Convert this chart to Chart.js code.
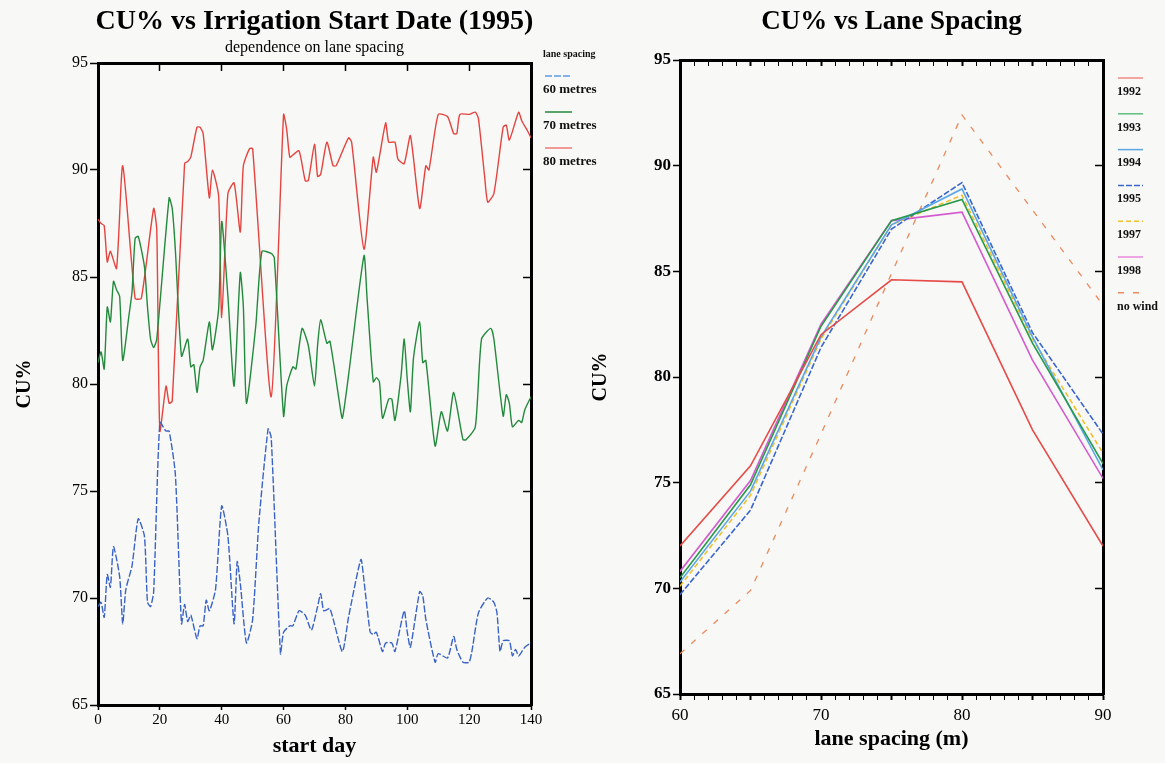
<!DOCTYPE html>
<html>
<head>
<meta charset="utf-8">
<title>CU% vs start date and lane spacing</title>
<script src="https://cdn.jsdelivr.net/npm/chart.js@4.4.1/dist/chart.umd.min.js"></script>
<style>
  html, body { margin: 0; padding: 0; background: #f8f8f6; overflow: hidden; }
  body { width: 1165px; height: 763px; position: relative; }
  canvas { position: absolute; top: 0; }
  #startChart { left: 0; }
  #spacingChart { left: 588px; }
</style>
</head>
<body>
<canvas id="startChart" width="629" height="763"></canvas>
<canvas id="spacingChart" width="607" height="763"></canvas>
<script>
// ---- CU% vs start day (1995), one series per lane spacing ----
const days60 = [0,1,2,3,4,5,7,8,9,11,13,15,16,17,18,20,22,23,25,27,28,29,30,32,33,34,35,36,38,40,42,44,45,46,48,50,52,55,56,59,60,62,63,65,67,69,71,72,73,75,79,81,85,86,88,89,90,92,93,95,96,99,100,101,104,105,106,109,110,113,115,116,118,120,121,123,126,128,129,130,131,133,134,135,136,138,140];
const cu60 = [69.6,69.8,69.1,71.1,70.5,72.4,71.0,68.8,70.4,71.5,73.7,72.9,69.8,69.6,70.3,78.2,77.8,77.8,75.8,68.8,69.7,68.9,69.2,68.1,68.7,68.7,69.9,69.4,70.4,74.3,72.9,68.8,71.7,70.7,67.9,69.0,73.5,77.9,77.5,67.4,68.4,68.7,68.7,69.4,69.2,68.5,69.6,70.2,69.4,69.5,67.5,69.1,71.8,70.8,68.4,68.3,68.4,67.5,67.9,67.9,67.5,69.4,68.4,67.7,70.3,70.1,69.0,67.0,67.4,67.2,68.2,67.6,67.0,67.0,67.6,69.3,70.0,69.8,69.3,67.5,68.0,68.0,67.3,67.6,67.3,67.7,67.9];

const days70 = [0,1,2,3,4,5,6,7,8,10,11,12,13,15,16,17,18,19,23,24,25,27,29,30,31,32,33,34,36,37,39,40,42,44,46,47,48,51,53,56,57,60,61,63,64,66,68,70,71,72,74,75,78,79,81,86,87,89,90,91,92,94,95,96,98,99,100,101,102,104,105,106,109,111,113,115,118,119,122,124,127,128,131,132,133,134,136,137,138,140];
const cu70 = [81.0,81.5,80.7,83.6,82.9,84.8,84.4,84.1,81.1,83.2,84.3,86.8,86.9,85.5,83.6,82.1,81.7,82.1,88.7,88.2,86.3,81.3,82.1,80.8,80.9,79.6,80.8,81.1,82.9,81.6,83.5,87.6,84.1,79.9,85.2,83.6,79.1,82.7,86.2,86.1,85.9,78.5,79.9,80.8,80.7,82.6,81.8,79.9,81.8,83.0,81.9,82.0,79.2,78.4,80.4,86.0,84.0,80.1,80.3,80.1,78.4,79.3,79.3,78.3,80.4,82.1,80.2,78.7,81.2,82.9,81.0,81.1,77.1,78.7,77.8,79.6,77.4,77.4,78.0,82.1,82.6,82.1,78.5,79.5,79.1,78.0,78.3,78.2,78.8,79.4];

const days80 = [0,1,2,3,4,6,8,12,14,18,19,20,22,23,24,28,29,30,32,33,34,36,37,39,40,42,44,46,47,49,50,56,60,61,62,63,65,67,68,70,71,72,74,76,77,81,82,86,89,90,93,94,96,97,99,101,104,106,107,110,113,115,116,117,120,122,123,125,126,128,131,132,133,136,137,139,140];
const cu80 = [87.7,87.5,87.4,85.7,86.2,85.4,90.2,84.0,84.0,88.2,87.2,77.8,79.9,79.1,79.2,90.3,90.4,90.6,92.0,92.0,91.7,88.7,90.0,88.8,83.1,88.9,89.4,87.1,90.2,91.0,91.0,79.4,92.6,91.9,90.6,90.7,90.9,89.5,89.5,91.2,89.7,89.8,91.3,90.2,90.2,91.5,91.3,86.3,90.6,89.9,92.2,91.3,91.3,90.5,90.3,91.6,88.2,90.2,90.0,92.6,92.5,91.7,91.7,92.6,92.6,92.7,92.4,89.7,88.5,88.9,92.0,92.1,91.4,92.7,92.3,91.8,91.5];

const startTicks = [0, 20, 40, 60, 80, 100, 120, 140];

// ---- CU% vs lane spacing, one series per season ----
const laneSpacing = [60, 65, 70, 75, 80, 85, 90];
const cu1992 = [72.0, 75.8, 82.0, 84.6, 84.5, 77.5, 72.0];
const cu1993 = [70.5, 74.9, 82.4, 87.4, 88.4, 81.6, 75.9];
const cu1994 = [70.3, 74.6, 81.9, 87.2, 88.9, 81.9, 75.6];
const cu1995 = [69.7, 73.7, 81.4, 87.0, 89.2, 82.1, 77.3];
const cu1997 = [70.1, 74.4, 81.8, 87.2, 88.6, 81.8, 76.4];
const cu1998 = [70.8, 75.1, 82.5, 87.4, 87.8, 80.8, 75.2];
const cuNoWind = [66.9, 69.9, 77.3, 84.9, 92.4, 87.9, 83.4];

const cuTicks = [65, 70, 75, 80, 85, 90, 95];

const SERIF = '"Liberation Serif", "Times New Roman", serif';

function pairs(xs, ys) {
  return xs.map((x, i) => ({ x: x, y: ys[i] }));
}

// short line sample above each label, as on the plotter output
const sampleLegend = {
  id: 'sampleLegend',
  afterDraw(chart, args, opts) {
    const ctx = chart.ctx;
    ctx.save();
    ctx.textAlign = 'left';
    ctx.textBaseline = 'middle';
    ctx.fillStyle = '#111';
    if (opts.heading) {
      ctx.font = 'bold ' + opts.headingSize + 'px ' + SERIF;
      ctx.fillText(opts.heading, opts.x, opts.headingY);
    }
    ctx.font = 'bold ' + opts.size + 'px ' + SERIF;
    chart.data.datasets.forEach((ds, i) => {
      const y = opts.top + i * opts.gap;
      ctx.strokeStyle = ds.legendColor || ds.borderColor;
      ctx.lineWidth = 1.5;
      ctx.setLineDash(ds.borderDash || []);
      ctx.beginPath();
      ctx.moveTo(opts.x0, y);
      ctx.lineTo(opts.x1, y);
      ctx.stroke();
      ctx.setLineDash([]);
      ctx.fillText(ds.label, opts.x, y + opts.textOffset);
    });
    ctx.restore();
  }
};

// frame side: thick border, no grid on the plot, ticks in or out
function side(position, extra) {
  return Object.assign({
    type: 'linear',
    position: position,
    border: { display: true, color: '#000', width: 3 },
    grid: { drawOnChartArea: false, drawTicks: true, tickLength: 8, tickColor: '#000', tickWidth: 1.5 },
    ticks: { display: false }
  }, extra);
}

// left chart
new Chart(document.getElementById('startChart').getContext('2d'), {
  type: 'line',
  data: {
    datasets: [
      { label: '60 metres', data: pairs(days60, cu60), borderColor: '#3a63c6', borderDash: [7, 2], legendColor: '#5b9de2' },
      { label: '70 metres', data: pairs(days70, cu70), borderColor: '#23893c' },
      { label: '80 metres', data: pairs(days80, cu80), borderColor: '#e4443f', legendColor: '#f07a74' }
    ]
  },
  plugins: [sampleLegend],
  options: {
    responsive: false,
    animation: false,
    devicePixelRatio: 1,
    layout: { padding: 0 },
    elements: {
      point: { radius: 0 },
      line: { borderWidth: 1.4, tension: 0.2 }
    },
    plugins: {
      legend: { display: false },
      tooltip: { enabled: false },
      title: {
        display: true, text: 'CU% vs Irrigation Start Date (1995)', color: '#000',
        font: { family: SERIF, size: 28, weight: 'bold' }, padding: { top: 5, bottom: 0 }
      },
      subtitle: {
        display: true, text: 'dependence on lane spacing', color: '#000',
        font: { family: SERIF, size: 16 }, padding: { top: 0, bottom: 0 }
      },
      sampleLegend: {
        heading: 'lane spacing', headingSize: 10, headingY: 54,
        x: 543, x0: 545, x1: 572, top: 76, gap: 36, textOffset: 14, size: 13
      }
    },
    scales: {
      x: side('bottom', {
        min: 0, max: 140,
        afterBuildTicks: s => { s.ticks = startTicks.map(v => ({ value: v })); },
        grid: { drawOnChartArea: false, tickLength: 5, tickColor: '#000', tickWidth: 1.5 },
        ticks: { display: true, color: '#000', padding: 1, maxRotation: 0, font: { family: SERIF, size: 15 } },
        title: { display: true, text: 'start day', color: '#000', font: { family: SERIF, size: 22, weight: 'bold' }, padding: { top: 0, bottom: 3 } },
        afterFit: s => { s.height = 58; }
      }),
      xTop: side('top', {
        min: 0, max: 140,
        afterBuildTicks: s => { s.ticks = startTicks.map(v => ({ value: v })); },
        grid: { drawOnChartArea: false, tickLength: -8, tickColor: '#000', tickWidth: 1.5 },
        afterFit: s => { s.height = 5.2; }
      }),
      y: side('left', {
        min: 65, max: 95,
        afterBuildTicks: s => { s.ticks = cuTicks.map(v => ({ value: v })); },
        ticks: { display: true, color: '#000', padding: 2, font: { family: SERIF, size: 16 } },
        title: { display: true, text: 'CU%', color: '#000', font: { family: SERIF, size: 20, weight: 'bold' }, padding: { top: 13, bottom: 0 } },
        afterFit: s => { s.width = 98; }
      }),
      yRight: side('right', {
        min: 65, max: 95,
        afterBuildTicks: s => { s.ticks = cuTicks.map(v => ({ value: v })); },
        grid: { drawOnChartArea: false, tickLength: -8, tickColor: '#000', tickWidth: 1.5 },
        afterFit: s => { s.width = 98; }
      })
    }
  }
});

// right chart
const minorTick = c => (c.tick && c.tick.value % 5 === 0 ? 2 : 1);

new Chart(document.getElementById('spacingChart').getContext('2d'), {
  type: 'line',
  data: {
    datasets: [
      { label: '1992', data: pairs(laneSpacing, cu1992), borderColor: '#e64b48', legendColor: '#f08a84' },
      { label: '1993', data: pairs(laneSpacing, cu1993), borderColor: '#26994a', legendColor: '#5cc07a' },
      { label: '1994', data: pairs(laneSpacing, cu1994), borderColor: '#5aa6e6' },
      { label: '1995', data: pairs(laneSpacing, cu1995), borderColor: '#3b66d0', borderDash: [6, 2] },
      { label: '1997', data: pairs(laneSpacing, cu1997), borderColor: '#f0c02e', borderDash: [5, 3] },
      { label: '1998', data: pairs(laneSpacing, cu1998), borderColor: '#d45ad0', legendColor: '#e888dc' },
      { label: 'no wind', data: pairs(laneSpacing, cuNoWind), borderColor: '#ec8a5c', borderDash: [6, 9], borderWidth: 1.3 }
    ]
  },
  plugins: [sampleLegend],
  options: {
    responsive: false,
    animation: false,
    devicePixelRatio: 1,
    layout: { padding: 0 },
    elements: { point: { radius: 0 }, line: { borderWidth: 1.6, tension: 0 } },
    plugins: {
      legend: { display: false },
      tooltip: { enabled: false },
      title: {
        display: true, text: 'CU% vs Lane Spacing', color: '#000',
        font: { family: SERIF, size: 27, weight: 'bold' }, padding: { top: 6, bottom: 0 }
      },
      sampleLegend: {
        x: 529, x0: 530, x1: 555, top: 78, gap: 35.8, textOffset: 13.7, size: 12
      }
    },
    scales: {
      x: side('bottom', {
        min: 60, max: 90,
        ticks: {
          display: true, stepSize: 1, autoSkip: false, maxRotation: 0, color: '#000', padding: 5,
          font: { family: SERIF, size: 17 },
          callback: v => (v % 10 === 0 ? v : '')
        },
        grid: { drawOnChartArea: false, tickLength: 6, tickColor: '#000', tickWidth: minorTick },
        title: { display: true, text: 'lane spacing (m)', color: '#000', font: { family: SERIF, size: 22, weight: 'bold' }, padding: { top: 0, bottom: 10 } },
        afterFit: s => { s.height = 69; }
      }),
      xTop: side('top', {
        min: 60, max: 90,
        ticks: { display: false, stepSize: 1, autoSkip: false },
        grid: { drawOnChartArea: false, tickLength: -6, tickColor: '#000', tickWidth: minorTick },
        afterFit: s => { s.height = 21.6; }
      }),
      y: side('left', {
        min: 65, max: 95,
        afterBuildTicks: s => { s.ticks = cuTicks.map(v => ({ value: v })); },
        grid: { drawOnChartArea: false, tickLength: 7, tickColor: '#000', tickWidth: 1.5 },
        ticks: { display: true, color: '#000', padding: 2, font: { family: SERIF, size: 17, weight: 'bold' } },
        title: { display: true, text: 'CU%', color: '#000', font: { family: SERIF, size: 20, weight: 'bold' }, padding: { top: 1, bottom: 0 } },
        afterFit: s => { s.width = 92; }
      }),
      yRight: side('right', {
        min: 65, max: 95,
        afterBuildTicks: s => { s.ticks = cuTicks.map(v => ({ value: v })); },
        grid: { drawOnChartArea: false, tickLength: -8, tickColor: '#000', tickWidth: 1.5 },
        afterFit: s => { s.width = 92; }
      })
    }
  }
});
</script>
</body>
</html>
